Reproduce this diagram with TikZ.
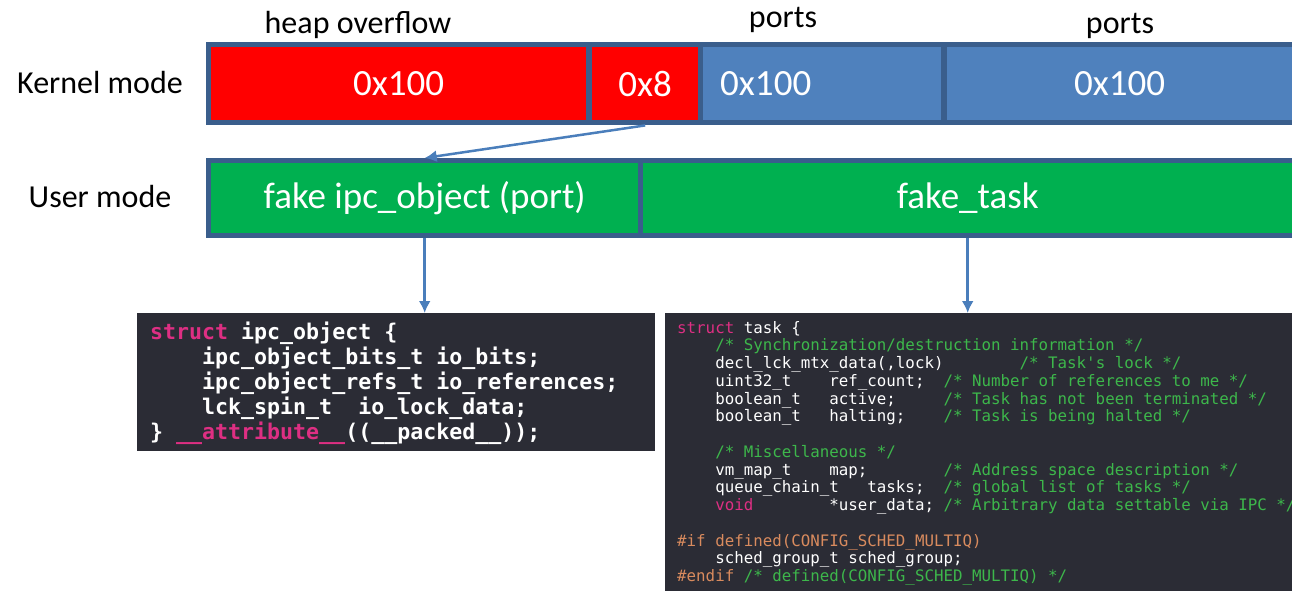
\documentclass[tikz,border=0pt]{standalone}
\usepackage{fontspec}
\setmainfont{Carlito}
\newfontfamily\codefont{DejaVu Sans Mono}
\usetikzlibrary{arrows.meta}

\definecolor{heapred}{HTML}{FF0000}
\definecolor{portblue}{HTML}{4F81BD}
\definecolor{fakegreen}{HTML}{00B050}
\definecolor{rowedge}{HTML}{3A5E8C}
\definecolor{linkblue}{HTML}{4A7EBB}
\definecolor{codebg}{HTML}{2B2C35}
\definecolor{kwpink}{HTML}{DE2F83}
\definecolor{cmtgreen}{HTML}{3DB74B}
\definecolor{pporange}{HTML}{D98B5E}

\newcommand{\ind}{\hphantom{0000}}
\newcommand{\kw}[1]{\textcolor{kwpink}{#1}}
\newcommand{\cmt}[1]{\textcolor{cmtgreen}{#1}}
\newcommand{\pp}[1]{\textcolor{pporange}{#1}}

\tikzset{
  rowbar/.style={fill=rowedge, anchor=north west, inner sep=0pt},
  cell/.style={minimum height=73pt, anchor=north west, inner sep=0pt, text=white,
    font=\fontsize{37}{40}\selectfont},
  lbl/.style={font=\fontsize{32}{34}\selectfont},
  codebox/.style={fill=codebg, anchor=north west, inner sep=0pt},
  codetext/.style={anchor=north west, inner sep=0pt, align=left, text=white},
  link/.style={linkblue, line width=2.5pt, -{Latex[length=12pt,width=12pt]}}
}

\begin{document}
\begin{tikzpicture}[x=1pt,y=-1pt]
    \useasboundingbox (0,0) rectangle (1292,591);
    \clip (0,0) rectangle (1292,591);

    % Labels
    \node[lbl] (kmode) at (100,83) {Kernel mode};
    \node[lbl] (umode) at (100,197) {User mode};
    \node[lbl] (heaplbl) at (358,25) {heap overflow};
    \node[lbl] (portslblA) at (783,20) {ports};
    \node[lbl] (portslblB) at (1120,26) {ports};

    % Kernel row
    \node[rowbar, minimum width=1100pt, minimum height=83pt] (kernelrow) at (206,42) {};
    \node[cell, fill=heapred, minimum width=375pt] (heapA) at (211,47) {0x100};
    \node[cell, fill=heapred, minimum width=106pt] (heapB) at (592,47) {0x8};
    \node[cell, fill=portblue, minimum width=238pt, text width=204pt, inner xsep=17pt, align=left] (portA) at (703,47) {0x100};
    \node[cell, fill=portblue, minimum width=345pt] (portB) at (947,47) {0x100};

    % User row
    \node[rowbar, minimum width=1100pt, minimum height=80pt] (userrow) at (206,158) {};
    \node[cell, fill=fakegreen, minimum width=427pt, minimum height=70pt] (fakeport) at (211,163) {fake ipc\_object (port)};
    \node[cell, fill=fakegreen, minimum width=649pt, minimum height=70pt] (faketask) at (643,163) {fake\_task};

    % Code boxes
    \node[codebox, minimum width=518pt, minimum height=138pt] (codeA) at (137,313) {};
    \node[codebox, minimum width=640pt, minimum height=280pt] (codeB) at (665,313) {};

    \node[codetext, font=\codefont\bfseries\fontsize{21.6}{25}\selectfont] (ipcsrc) at (150,322) {%
\kw{struct} ipc\_object \{\\
\ind ipc\_object\_bits\_t io\_bits;\\
\ind ipc\_object\_refs\_t io\_references;\\
\ind lck\_spin\_t~~io\_lock\_data;\\
\} \kw{\_\_attribute\_\_}((\_\_packed\_\_));};

    \node[codetext, font=\codefont\fontsize{15.8}{17.75}\selectfont] (tasksrc) at (677,321) {%
\kw{struct} task \{\\
\ind \cmt{/* Synchronization/destruction information */}\\
\ind decl\_lck\_mtx\_data(,lock)~~~~~~~~\cmt{/* Task\textquotesingle s lock */}\\
\ind uint32\_t~~~~ref\_count;~~\cmt{/* Number of references to me */}\\
\ind boolean\_t~~~active;~~~~~\cmt{/* Task has not been terminated */}\\
\ind boolean\_t~~~halting;~~~~\cmt{/* Task is being halted */}\\
\mbox{}\\
\ind \cmt{/* Miscellaneous */}\\
\ind vm\_map\_t~~~~map;~~~~~~~~\cmt{/* Address space description */}\\
\ind queue\_chain\_t~~~tasks;~~\cmt{/* global list of tasks */}\\
\ind \kw{void}~~~~~~~~*user\_data; \cmt{/* Arbitrary data settable via IPC */}\\
\mbox{}\\
\pp{\#if defined(CONFIG\_SCHED\_MULTIQ)}\\
\ind sched\_group\_t sched\_group;\\
\pp{\#endif} \cmt{/* defined(CONFIG\_SCHED\_MULTIQ) */}};

    % Arrows
    \draw[link] (heapB.south |- kernelrow.south) -- (fakeport.north |- userrow.north);
    \draw[link] (fakeport.south |- userrow.south) -- (fakeport.south |- codeA.north);
    \draw[link] (faketask.south |- userrow.south) -- (faketask.south |- codeB.north);
\end{tikzpicture}
\end{document}
